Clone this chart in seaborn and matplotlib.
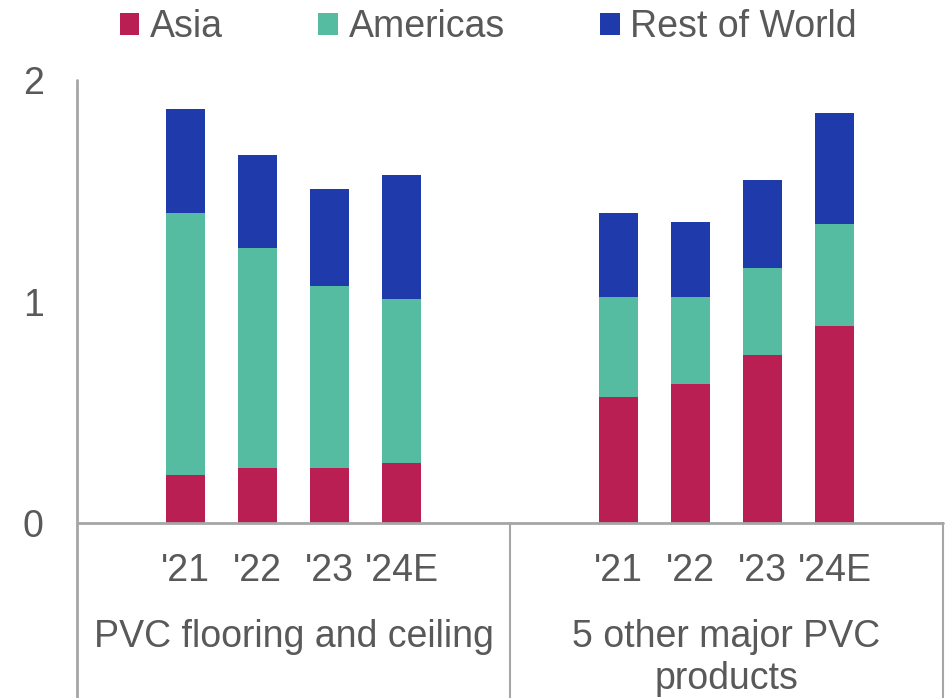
import matplotlib
matplotlib.use("Agg")
import matplotlib.pyplot as plt
import matplotlib.transforms as mtransforms
from matplotlib.patches import Patch
import seaborn as sns
import pandas as pd
import numpy as np

# ---- data ----
groups = ["PVC flooring and ceiling", "5 other major PVC\nproducts"]
years = ["'21", "'22", "'23", "'24E"]
series = ["Asia", "Americas", "Rest of World"]
asia_g1 = [0.22, 0.25, 0.25, 0.27]
americas_g1 = [1.18, 0.99, 0.82, 0.74]
row_g1 = [0.47, 0.42, 0.44, 0.56]
asia_g2 = [0.57, 0.63, 0.76, 0.89]
americas_g2 = [0.45, 0.39, 0.39, 0.46]
row_g2 = [0.38, 0.34, 0.40, 0.50]
yticks = [0, 1, 2]

colors = {"Asia": "#B91F52", "Americas": "#55BBA1", "Rest of World": "#1E3AAB"}
text_color = "#595959"
line_color = "#A6A6A6"

sns.set_theme(style="white")
plt.rcParams["font.family"] = ["Liberation Sans", "DejaVu Sans"]

# positions: 4 bars per group, gap of two slots between groups
n = len(years)
gap = 2
pos = [i for i in range(n)] + [i + n + gap for i in range(n)]

asia = np.array(asia_g1 + asia_g2)
amer = np.array(americas_g1 + americas_g2)
row = np.array(row_g1 + row_g2)
df = pd.DataFrame({
    "x": pos,
    "Asia": asia,
    "Americas_cum": asia + amer,
    "Total": asia + amer + row,
})

fig = plt.figure(figsize=(9.5, 6.98), dpi=100)
ax = fig.add_axes([77 / 950, 1 - 523.3 / 698, (943 - 77) / 950, (523.3 - 80) / 698])

w = 0.54
sns.barplot(data=df, x="x", y="Total", native_scale=True, color=colors["Rest of World"],
            width=w, linewidth=0, saturation=1, ax=ax)
sns.barplot(data=df, x="x", y="Americas_cum", native_scale=True, color=colors["Americas"],
            width=w, linewidth=0, saturation=1, ax=ax)
sns.barplot(data=df, x="x", y="Asia", native_scale=True, color=colors["Asia"],
            width=w, linewidth=0, saturation=1, ax=ax)

fs = 27
xmin, xmax = -1.5, pos[-1] + 1.5
ax.set_xlim(xmin, xmax)
ax.set_ylim(0, 2)
ax.set_yticks(yticks)
ax.set_yticklabels([str(t) for t in yticks])
ax.tick_params(axis="y", length=0, pad=24, labelsize=fs, labelcolor=text_color)
ax.set_xticks([])
ax.set_xlabel("")
ax.set_ylabel("")

for s in ["top", "right", "bottom", "left"]:
    ax.spines[s].set_visible(False)

trans = mtransforms.blended_transform_factory(ax.transData, ax.transAxes)
# axis lines, extending below the baseline as category separators
ax.plot([xmin, xmax], [0, 0], transform=trans, color=line_color, lw=2, clip_on=False)
bottom_y = -(698 - 523.3) / (523.3 - 80)
ax.plot([xmin, xmin], [1, bottom_y], transform=trans, color=line_color, lw=2, clip_on=False)
sep = (pos[n - 1] + pos[n]) / 2
ax.plot([sep, sep], [0, bottom_y], transform=trans, color=line_color, lw=1.5, clip_on=False)
ax.plot([xmax, xmax], [0, bottom_y], transform=trans, color=line_color, lw=1.5, clip_on=False)

# year labels
for i, p in enumerate(pos):
    ax.text(p, -0.108, years[i % n], transform=trans, ha="center", va="center",
            fontsize=fs, color=text_color)

# group labels
centers = [np.mean(pos[:n]), np.mean(pos[n:])]
for c, g in zip(centers, groups):
    ax.text(c, -0.215, g, transform=trans, ha="center", va="top",
            fontsize=fs, color=text_color, linespacing=1.24)

handles = [Patch(facecolor=colors[s], edgecolor="none") for s in series]
fig.legend(handles, series, loc="upper center", bbox_to_anchor=(0.514, 1.035), ncol=3,
           frameon=False, fontsize=fs, labelcolor=text_color,
           handlelength=0.53, handleheight=0.53, handletextpad=0.28, columnspacing=2.54)

fig.savefig("out.png", dpi=100)
